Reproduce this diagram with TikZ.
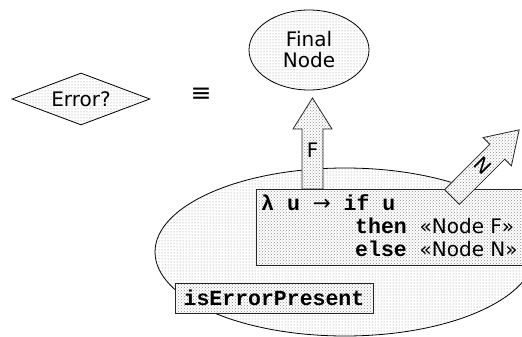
\documentclass[tikz,border=0pt]{standalone}
\usepackage{fontspec}
\usetikzlibrary{shapes.geometric,patterns}
\newfontfamily\sansf{DejaVu Sans}
\newfontfamily\codef{Liberation Mono}
\newcommand\lblfnt{\sansf\mdseries\fontsize{20}{21}\selectfont}
\newcommand\codefnt{\codef\bfseries\fontsize{21.5}{22}\selectfont}
\tikzset{
  sparse/.style={preaction={fill=white}, pattern=dots, pattern color=black!45, draw=black, line width=0.8pt},
  dense/.style={preaction={fill=white}, pattern=crosshatch dots, pattern color=black!45, draw=black!85, line width=0.8pt},
  lbl/.style={font=\lblfnt, inner sep=0pt},
  codeline/.style={font=\codefnt, anchor=base west, inner sep=0pt},
}
\begin{document}
\begin{tikzpicture}[x=1pt,y=-1pt]
\useasboundingbox (0,0) rectangle (522,337);
\clip (0,0) rectangle (522,337);
% outer ellipse
\node[ellipse, sparse, minimum width=380pt, minimum height=168pt, inner sep=0pt] (outer) at (345,252) {};
% F block arrow
\draw[dense] (302,189) -- (302,129) -- (293,129) -- (312.5,98) -- (332,129) -- (323,129) -- (323,189) -- cycle;
\node[lbl] (flab) at (312.5,150) {F};
% code box
\node[dense, rectangle, anchor=north west, minimum width=274pt, minimum height=76pt, inner sep=0pt] (code) at (256,189) {};
\node[codeline] (l1) at (261,210) {λ u {\sansf\mdseries →} if u};
\node[codeline] (l2) at (355,233) {then {\lblfnt «Node F»}};
\node[codeline] (l3) at (355,256) {else {\lblfnt «Node N»}};
% N block arrow
\draw[dense] (444.6,189.6) -- (489.8,144.3) -- (483.1,137.6) -- (519.2,129.8) -- (511.4,165.9) -- (504.7,159.2) -- (459.4,204.4) -- cycle;
\node[lbl, rotate=-45] (nlab) at (483,166) {N};
% isErrorPresent
\node[dense, rectangle, minimum width=198pt, minimum height=30pt, inner sep=0pt, font=\codefnt] (iep) at (274,298) {isErrorPresent};
% final node
\node[ellipse, sparse, minimum width=120pt, minimum height=80pt, inner sep=0pt, font=\lblfnt, align=center] (final) at (309,50) {Final\\Node};
% diamond
\node[diamond, sparse, aspect=2.65, minimum width=138pt, minimum height=52pt, inner sep=0pt, font=\lblfnt] (err) at (81,99) {Error?};
\node[font=\sansf\fontsize{25}{25}\selectfont, inner sep=0pt] (eq) at (201,95) {≡};
\end{tikzpicture}
\end{document}
